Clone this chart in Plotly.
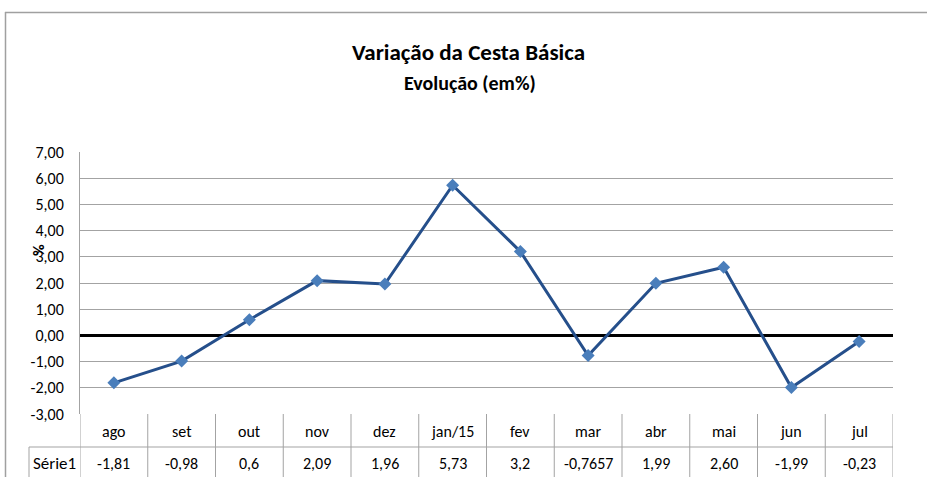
import plotly.graph_objects as go

categories = ["ago", "set", "out", "nov", "dez", "jan/15", "fev", "mar", "abr", "mai", "jun", "jul"]
values = [-1.81, -0.98, 0.6, 2.09, 1.96, 5.73, 3.2, -0.7657, 1.99, 2.60, -1.99, -0.23]
value_labels = ["-1,81", "-0,98", "0,6", "2,09", "1,96", "5,73", "3,2", "-0,7657", "1,99", "2,60", "-1,99", "-0,23"]
series_name = "Série1"
y_ticks = [-3, -2, -1, 0, 1, 2, 3, 4, 5, 6, 7]
y_tick_labels = ["-3,00", "-2,00", "-1,00", "0,00", "1,00", "2,00", "3,00", "4,00", "5,00", "6,00", "7,00"]

FONT = "Carlito, 'Liberation Sans Narrow', Lato, sans-serif"
GRID = "#a3a3a3"
W, H = 927, 477
L, R, T, B = 80, 34, 152, 63
plot_h = H - T - B
plot_w = W - L - R

def py(px):  # pixel y -> paper y
    return (H - B - px) / plot_h

def pxx(px):  # pixel x -> paper x
    return (px - L) / plot_w

xs = list(range(len(categories)))

fig = go.Figure()
fig.add_trace(go.Scatter(
    x=xs, y=values, mode="lines+markers",
    line=dict(color="#254f8b", width=3),
    marker=dict(symbol="diamond", size=10, color="#4a7ebb"),
    showlegend=False, hoverinfo="skip",
))

shapes = []
# table grid
row1_bot = py(447)
row2_bot = py(490)
for i in range(len(categories) + 1):
    shapes.append(dict(type="line", xref="x", yref="paper", x0=i - 0.5, x1=i - 0.5,
                       y0=0, y1=row2_bot, line=dict(color=GRID, width=1), layer="above"))
shapes.append(dict(type="line", xref="paper", yref="paper", x0=pxx(29), x1=1,
                   y0=row1_bot, y1=row1_bot, line=dict(color=GRID, width=1)))
shapes.append(dict(type="line", xref="paper", yref="paper", x0=pxx(29), x1=pxx(29),
                   y0=row1_bot, y1=row2_bot, line=dict(color=GRID, width=1)))
# outer chart border
shapes.append(dict(type="line", xref="paper", yref="paper", x0=pxx(5.5), x1=pxx(5.5),
                   y0=py(12), y1=py(490), line=dict(color="#a0a0a0", width=1.5)))
shapes.append(dict(type="line", xref="paper", yref="paper", x0=pxx(5), x1=pxx(940),
                   y0=py(12.5), y1=py(12.5), line=dict(color="#a0a0a0", width=1.5)))

TXT = dict(family=FONT, size=16, color="#000")
annotations = []
for i, c in enumerate(categories):
    annotations.append(dict(x=i, y=py(431), xref="x", yref="paper", text=c, showarrow=False,
                            font=TXT, xanchor="center", yanchor="middle"))
    annotations.append(dict(x=i, y=py(463), xref="x", yref="paper", text=value_labels[i], showarrow=False,
                            font=TXT, xanchor="center", yanchor="middle"))
annotations.append(dict(x=pxx(54), y=py(463), xref="paper", yref="paper", text=series_name, showarrow=False,
                        font=dict(family=FONT, size=17, color="#000"), xanchor="center", yanchor="middle"))
annotations.append(dict(x=pxx(468), y=py(52), xref="paper", yref="paper",
                        text="<b>Variação da Cesta Básica</b>", showarrow=False,
                        font=dict(family=FONT, size=23, color="#000"), xanchor="center", yanchor="middle"))
annotations.append(dict(x=pxx(470), y=py(83), xref="paper", yref="paper",
                        text="<b>Evolução (em%)</b>", showarrow=False,
                        font=dict(family=FONT, size=20, color="#000"), xanchor="center", yanchor="middle"))
annotations.append(dict(x=pxx(38), y=py(250), xref="paper", yref="paper",
                        text="<b>%</b>", showarrow=False, textangle=-90,
                        font=dict(family=FONT, size=16, color="#000"), xanchor="center", yanchor="middle"))

fig.update_layout(
    width=W, height=H,
    margin=dict(l=L, r=R, t=T, b=B),
    paper_bgcolor="white", plot_bgcolor="white",
    shapes=shapes, annotations=annotations,
    xaxis=dict(range=[-0.5, len(categories) - 0.5], showgrid=False, zeroline=False,
               showticklabels=False, showline=False, fixedrange=True),
    yaxis=dict(range=[-3, 7], tickvals=y_ticks, ticktext=y_tick_labels,
               showgrid=True, gridcolor=GRID, gridwidth=1,
               zeroline=True, zerolinecolor="#000", zerolinewidth=3,
               showline=True, linecolor=GRID, linewidth=1,
               ticks="", ticklen=0, ticklabelstandoff=12,
               tickfont=dict(family=FONT, size=16, color="#000"), fixedrange=True),
)

fig.write_html("out.html", config={"displayModeBar": False},
               post_script="document.body.style.margin='0';document.body.style.overflow='hidden';")
